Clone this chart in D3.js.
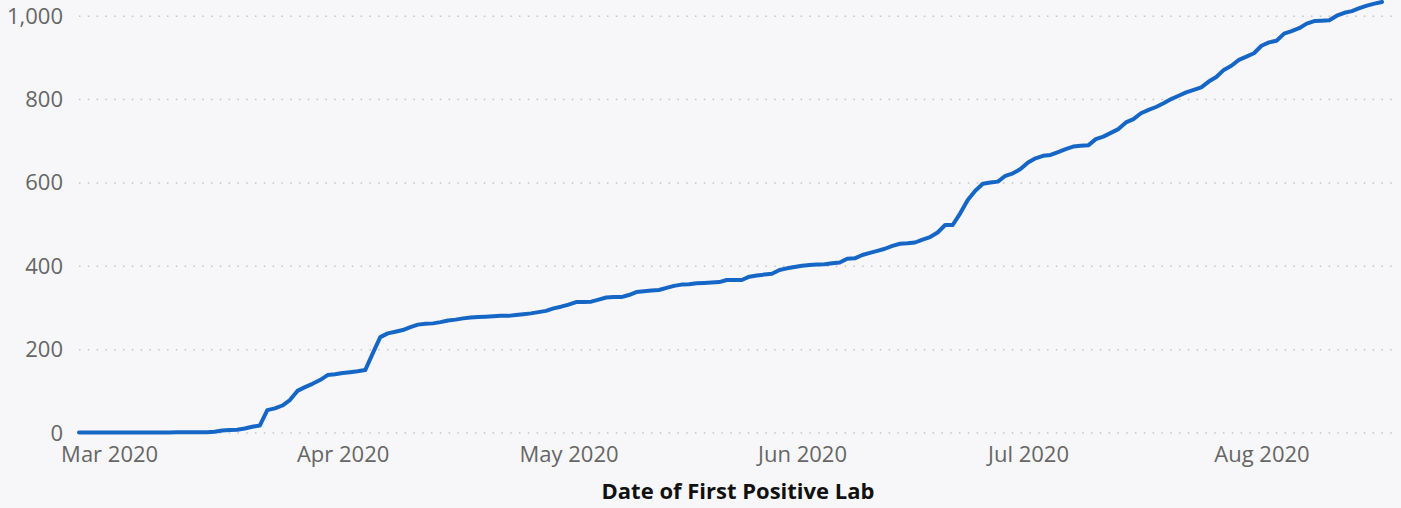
<!DOCTYPE html>
<html>
<head>
<meta charset="utf-8">
<script src="https://cdn.jsdelivr.net/npm/d3@7"></script>
<style>
  html, body { margin: 0; padding: 0; background: #f7f7f9; }
  svg { display: block; }
  .tick text { font-family: "Segoe UI", "Open Sans", sans-serif; font-size: 22px; fill: #666; }
  .grid line { stroke: #c4c4c4; stroke-width: 1.5; stroke-dasharray: 1.5 7.3; }
  .title { font-family: "Segoe UI", "Open Sans", sans-serif; font-size: 22px; font-weight: 700; fill: #111; }
  .cases { fill: none; stroke: #1666c5; stroke-width: 4; stroke-linejoin: round; stroke-linecap: round; }
</style>
</head>
<body>
<div id="chart"></div>
<script>
const width = 1401
const height = 508

// data: cumulative count per day, starting at firstDay
const firstDay = '2020-02-26'
const lastDay = '2020-08-17'
const cumulativeFeb = [0, 0, 0, 0]
const cumulativeMar = [0, 0, 0, 0, 0, 0, 0, 0, 0, 1, 1, 1, 1, 1, 2, 5, 6, 7, 10, 14, 17,
  54, 58, 65, 78, 100, 109, 117, 126, 138, 140]
const cumulativeApr = [143, 145, 147, 150, 190, 229, 238, 242, 246, 253, 259, 261, 262, 265, 269,
  271, 274, 276, 277, 278, 279, 280, 280, 282, 284, 286, 289, 292, 298, 302]
const cumulativeMay = [307, 313, 313, 314, 319, 324, 325, 325, 330, 337, 339, 341, 342, 347, 352,
  355, 356, 358, 359, 360, 361, 366, 366, 366, 374, 377, 379, 381, 390, 394, 397]
const cumulativeJun = [400, 402, 403, 404, 406, 408, 417, 418, 426, 431, 436, 441, 448, 453, 454,
  456, 463, 469, 480, 498, 498, 526, 558, 580, 597, 600, 602, 616, 622, 632]
const cumulativeJul = [648, 658, 664, 666, 673, 680, 686, 688, 689, 704, 710, 719, 728, 744, 752,
  766, 774, 781, 790, 800, 808, 816, 822, 828, 842, 853, 870, 880, 894, 902, 910]
const cumulativeAug = [928, 936, 940, 957, 963, 970, 981, 987, 988, 989, 1000, 1007, 1011, 1018,
  1024, 1029, 1033]
const yTicks = [0, 200, 400, 600, 800, 1000]
const xTicks = ['2020-03-01', '2020-04-01', '2020-05-01', '2020-06-01', '2020-07-01', '2020-08-01']
const xLabel = 'Date of First Positive Lab'

const parse = d3.timeParse('%Y-%m-%d')
const values = [].concat(cumulativeFeb, cumulativeMar, cumulativeApr, cumulativeMay, cumulativeJun, cumulativeJul, cumulativeAug)
const data = values.map((v, i) => ({ date: d3.timeDay.offset(parse(firstDay), i), value: v }))

const svg = d3.select('#chart')
  .append('svg')
  .attr('width', width)
  .attr('height', height)

svg.append('rect')
  .attr('width', width)
  .attr('height', height)
  .attr('fill', '#f7f7f9')

const x = d3.scaleTime()
  .domain([parse(firstDay), parse(lastDay)])
  .range([79, 1382])
const y = d3.scaleLinear()
  .domain([0, 1000])
  .range([432.6, 15.7])

// gridlines + y labels
const yAxis = svg.append('g')
  .attr('class', 'grid')
  .attr('transform', 'translate(79,0)')
  .call(d3.axisLeft(y)
    .tickValues(yTicks)
    .tickFormat(d3.format(','))
    .tickSize(-(1398 - 79))
    .tickPadding(16))
yAxis.select('.domain').remove()
yAxis.selectAll('.tick text').attr('dy', '0.34em')

// x labels
const xAxis = svg.append('g')
  .attr('transform', 'translate(0,440)')
  .call(d3.axisBottom(x)
    .tickValues(xTicks.map(parse))
    .tickFormat(d3.timeFormat('%b %Y'))
    .tickSize(0)
    .tickPadding(6))
xAxis.select('.domain').remove()

svg.append('text')
  .attr('class', 'title')
  .attr('x', 738)
  .attr('y', 499)
  .attr('text-anchor', 'middle')
  .text(xLabel)

// line
const line = d3.line()
  .x(d => x(d.date))
  .y(d => y(d.value))
svg.append('path')
  .datum(data)
  .attr('class', 'cases')
  .attr('d', line)
</script>
</body>
</html>
